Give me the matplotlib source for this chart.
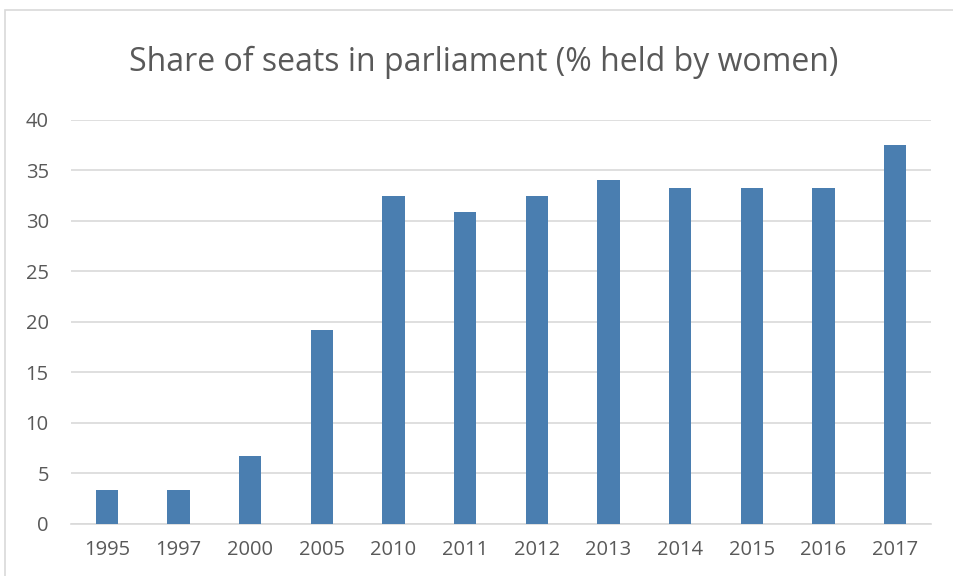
import matplotlib
matplotlib.use("Agg")
import matplotlib.pyplot as plt
from matplotlib.patches import Rectangle

years = ["1995", "1997", "2000", "2005", "2010", "2011", "2012", "2013", "2014", "2015", "2016", "2017"]
share = [3.3, 3.3, 6.7, 19.2, 32.5, 30.9, 32.5, 34.1, 33.3, 33.3, 33.3, 37.5]
y_ticks = [0, 5, 10, 15, 20, 25, 30, 35, 40]

plt.rcParams['font.family'] = ['Open Sans', 'DejaVu Sans']
text_color = '#595959'

W, H = 954, 576
fig = plt.figure(figsize=(W / 100, H / 100), dpi=100)

# chart outline (cut off at right and bottom)
fig.patches.append(Rectangle((5 / W, -0.5), 1.5, 1.5 - 10 / H, transform=fig.transFigure,
                             fill=False, edgecolor='#d9d9d9', linewidth=1.2))

ax = fig.add_axes([71 / W, 1 - 523.5 / H, (931 - 71) / W, (523.5 - 120) / H])
x = range(len(years))
ax.bar(x, share, width=0.31, color='#4a7eb0', zorder=3)

ax.set_xlim(-0.5, len(years) - 0.5)
ax.set_ylim(0, 40)
ax.set_yticks(y_ticks)
ax.set_xticks(list(x))
ax.set_xticklabels(years)
ax.grid(axis='y', color='#d9d9d9', linewidth=1.2, zorder=0)
for s in ['top', 'right', 'left']:
    ax.spines[s].set_visible(False)
ax.spines['bottom'].set_color('#d9d9d9')
ax.spines['bottom'].set_linewidth(1.2)
ax.tick_params(axis='both', length=0, labelsize=14.5, colors=text_color)
ax.tick_params(axis='y', pad=16)
ax.tick_params(axis='x', pad=12)

fig.text(484 / W, 1 - 62 / H, "Share of seats in parliament (% held by women)",
         ha='center', va='center', fontsize=23, color=text_color)

fig.savefig("out.png", dpi=100)
